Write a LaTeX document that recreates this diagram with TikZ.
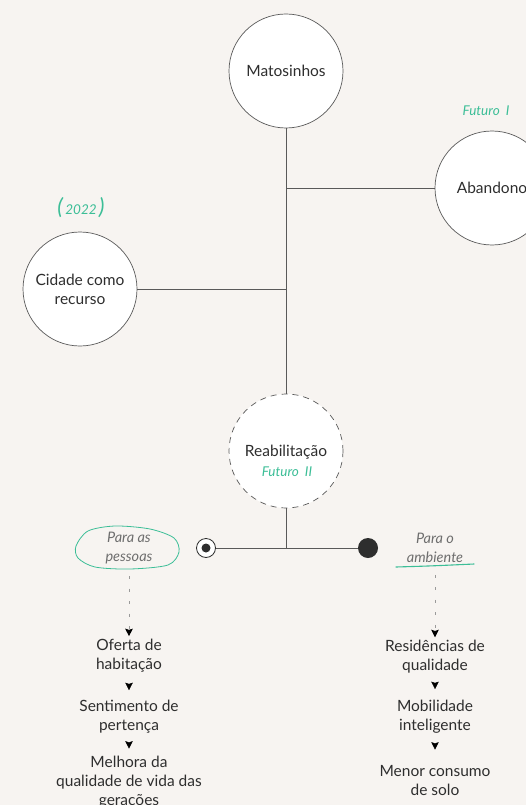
\documentclass[tikz,border=0pt]{standalone}
\usepackage{fontspec}
\setmainfont{Lato}
\usetikzlibrary{arrows.meta}
\definecolor{paper}{HTML}{F7F4F1}
\definecolor{ink}{HTML}{2E2E2E}
\definecolor{rule}{HTML}{595959}
\definecolor{soft}{HTML}{6E6E6E}
\definecolor{faint}{HTML}{9A9A9A}
\definecolor{mint}{HTML}{3CBE97}
\begin{document}
\begin{tikzpicture}[x=1pt,y=-1pt,
		bubble/.style={circle,draw=rule,line width=0.7pt,fill=white,minimum size=114pt,inner sep=0pt,text=ink,align=center,font=\fontsize{15.5}{19}\selectfont},
		item/.style={align=center,text=ink,inner sep=0pt,font=\fontsize{15.5}{19}\selectfont},
		side/.style={align=center,text=soft,inner sep=0pt,font=\fontsize{14.5}{19}\selectfont\itshape},
		hand/.style={text=mint,inner sep=0pt,font=\fontsize{13.5}{16}\selectfont\itshape},
		link/.style={draw=rule,line width=0.7pt},
		tipsolo/.style={dash pattern=on 0pt off 80pt,-{Stealth[length=7.5pt,width=7.5pt,inset=1.2pt,black]}},
		tipdots/.style={draw=faint,line width=0.9pt,dash pattern=on 3pt off 9.5pt,-{Stealth[length=7.5pt,width=7.5pt,inset=1.2pt,black]}}]
	\fill[paper] (0,0) rectangle (526,805);
	\useasboundingbox (0,0) rectangle (526,805);
	\node[bubble] (matos) at (286,71) {Matosinhos};
	\node[bubble] (aband) at (492,188) {Abandono};
	\node[bubble] (cidade) at (80,289) {Cidade como\\recurso};
	\node[bubble,dash pattern=on 6pt off 5pt] (reab) at (286,451) {};
	\node[item] (reabtxt) at (286,452) {Reabilitação};
	\node[hand] (fut2) at (287,472) {Futuro\;\,II};
	\node[hand] (fut1) at (486,111) {Futuro\;\,I};
	\node[hand] (ano) at (81,208) {{\fontsize{22}{22}\selectfont(}\,2022\,{\fontsize{22}{22}\selectfont)}};
	\draw[link] (matos) -- (reab);
	\draw[link] (aband.west) -- (aband.west -| matos.south);
	\draw[link] (cidade.east) -- (cidade.east -| matos.south);
	\node[circle,draw=ink,fill=white,line width=0.8pt,minimum size=19pt,inner sep=0pt] (bull) at (206,548) {};
	\node[circle,fill=ink,minimum size=9pt,inner sep=0pt] (bullcore) at (bull) {};
	\node[circle,fill=ink,minimum size=20pt,inner sep=0pt] (dot) at (368,548) {};
	\draw[link] (bull) -- (dot);
	\draw[link] (reab) -- (reab.south |- dot.west);
	\node[side] (ppl) at (129,548) {Para as\\pessoas};
	\node[side] (env) at (435,548) {Para o\\ambiente};
	\draw[mint,line width=0.8pt] plot[smooth cycle] coordinates {(76,546) (88,531) (115,526) (150,529) (174,538) (179,552) (168,565) (130,569) (95,567) (78,558)};
	\draw[mint,line width=1.1pt,line cap=round] (396,567) .. controls (430,566) .. (474,564);
	\node[item] (l1) at (129,656) {Oferta de\\habitação};
	\node[item] (l2) at (129,717) {Sentimento de\\pertença};
	\node[item] (l3) at (129,782) {Melhora da\\qualidade de vida das\\gerações};
	\node[item] (r1) at (435,657) {Residências de\\qualidade};
	\node[item] (r2) at (435,717) {Mobilidade\\inteligente};
	\node[item] (r3) at (435,780) {Menor consumo\\de solo};
	\draw[tipdots,shorten <=12pt,shorten >=3pt] (ppl) -- (l1);
	\draw[tipdots,shorten <=12pt,shorten >=3pt] (env) -- (r1);
	\draw[tipsolo,shorten >=10pt] (l1) -- (l2);
	\draw[tipsolo,shorten >=7pt] (l2) -- (l3);
	\draw[tipsolo,shorten >=11pt] (r1) -- (r2);
	\draw[tipsolo,shorten >=15pt] (r2) -- (r3);
\end{tikzpicture}
\end{document}
